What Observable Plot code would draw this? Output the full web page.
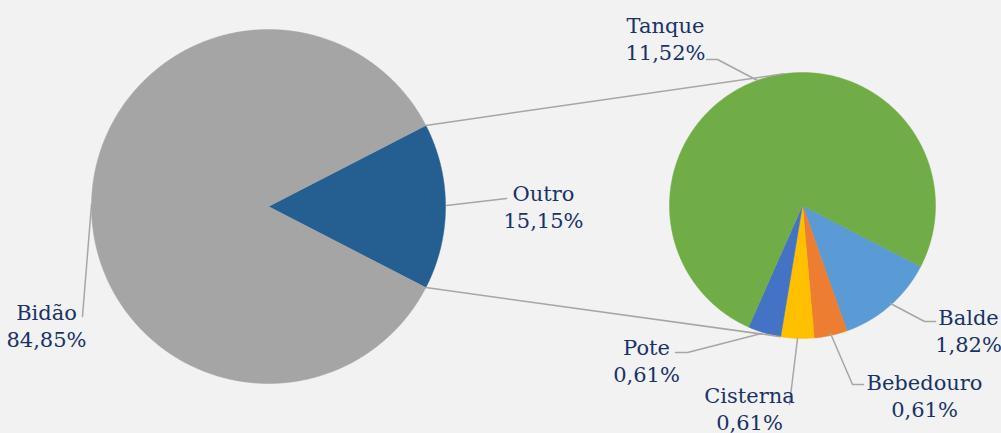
<!DOCTYPE html>
<html><head><meta charset="utf-8">
<script src="https://cdn.jsdelivr.net/npm/d3@7"></script>
<script src="https://cdn.jsdelivr.net/npm/@observablehq/plot@0.6"></script>
<style>html,body{margin:0;padding:0;background:#f2f2f2;overflow:hidden}</style>
</head><body><div id="chart"></div>
<script>
// ---- data ----
const mainCategories = ["Outro", "Bidão"];
const mainValues = [15.15, 84.85];
const mainLabels = ["15,15%", "84,85%"];
const subCategories = ["Balde", "Bebedouro", "Cisterna", "Pote", "Tanque"];
const subValues = [1.82, 0.61, 0.61, 0.61, 11.52];
const subLabels = ["1,82%", "0,61%", "0,61%", "0,61%", "11,52%"];

// ---- styles / layout ----
const colors = {Outro: "#255e91", "Bidão": "#a5a5a5", Balde: "#5b9bd5", Bebedouro: "#ed7d31",
  Cisterna: "#ffc000", Pote: "#4472c4", Tanque: "#70ad47"};
const W = 1001, H = 433;
const big = {cx: 268, cy: 206, r: 177};
const small = {cx: 802, cy: 205, r: 133, start: 117.3};
const deg = Math.PI / 180;
const labelPos = {
  Outro: [543, 205], "Bidão": [46, 324],
  Tanque: [665, 37], Balde: [968, 329], Bebedouro: [924, 394], Cisterna: [749, 407], Pote: [646, 359]
};
const leaders = {
  Outro: [[446, 205], [506, 198]],
  "Bidão": [[91, 204], [82, 316]],
  Tanque: [[757, 80], [717, 59], [706, 59]],
  Balde: [[890, 303], [924, 321], [935, 321]],
  Bebedouro: [[830, 333], [852, 384], [863, 384]],
  Cisterna: [[797, 338], [789, 404]],
  Pote: [[761, 333], [687, 352], [675, 352]]
};

function pt(c, a, r) { return [c.cx + r * Math.sin(a), c.cy - r * Math.cos(a)]; }
function arcs(c, cats, vals, startAngle) {
  const pie = d3.pie().sort(null).startAngle(startAngle).endAngle(startAngle + 2 * Math.PI);
  const out = [];
  pie(vals).forEach((p, i) => {
    const name = cats[i];
    const [x0, y0] = [c.cx, c.cy];
    out.push({name, x: x0, y: y0});
    const n = Math.max(2, Math.ceil((p.endAngle - p.startAngle) / (0.5 * deg)));
    for (let k = 0; k <= n; k++) {
      const a = p.startAngle + (p.endAngle - p.startAngle) * k / n;
      const [x, y] = pt(c, a, c.r);
      out.push({name, x, y});
    }
    out.push({name, x: x0, y: y0});
  });
  return out;
}
const outroShare = mainValues[0] / d3.sum(mainValues);
const bigStart = Math.PI / 2 - Math.PI * outroShare;
const bigPts = arcs(big, mainCategories, mainValues, bigStart);
const smallPts = arcs(small, subCategories, subValues, small.start * deg);

const bigA = pt(big, bigStart, big.r), bigB = pt(big, Math.PI / 2 + Math.PI * outroShare, big.r);
const smA = pt(small, 351.8 * deg, small.r), smB = pt(small, 189.6 * deg, small.r);
const connectors = [
  {id: "top", x: bigA[0], y: bigA[1]}, {id: "top", x: smA[0], y: smA[1]},
  {id: "bot", x: bigB[0], y: bigB[1]}, {id: "bot", x: smB[0], y: smB[1]}
];
const leaderPts = Object.entries(leaders).flatMap(([k, ps]) => ps.map(([x, y]) => ({id: k, x, y})));

const labels = [
  ...mainCategories.map((c, i) => ({name: c, text: c + "\n" + mainLabels[i]})),
  ...subCategories.map((c, i) => ({name: c, text: c + "\n" + subLabels[i]}))
].map(d => ({...d, x: labelPos[d.name][0], y: labelPos[d.name][1]}));

const chart = Plot.plot({
  width: W, height: H,
  margin: 0,
  style: {background: "#f2f2f2", overflow: "visible"},
  x: {domain: [0, W], axis: null},
  y: {domain: [H, 0], axis: null},
  marks: [
    Plot.line(bigPts, {x: "x", y: "y", z: "name", fill: d => colors[d.name], stroke: d => colors[d.name], strokeWidth: 0.5, curve: "linear"}),
    Plot.line(smallPts, {x: "x", y: "y", z: "name", fill: d => colors[d.name], stroke: d => colors[d.name], strokeWidth: 0.5, curve: "linear"}),
    Plot.line(connectors, {x: "x", y: "y", z: "id", stroke: "#a6a6a6", strokeWidth: 1.5}),
    Plot.line(leaderPts, {x: "x", y: "y", z: "id", stroke: "#a6a6a6", strokeWidth: 1.5}),
    Plot.text(labels, {x: "x", y: "y", text: "text", fill: "#1a3266", fontSize: 21,
      fontFamily: "DejaVu Serif", lineHeight: 1.28, textAnchor: "middle", lineAnchor: "middle"})
  ]
});
document.getElementById("chart").appendChild(chart);
</script>
</body></html>
